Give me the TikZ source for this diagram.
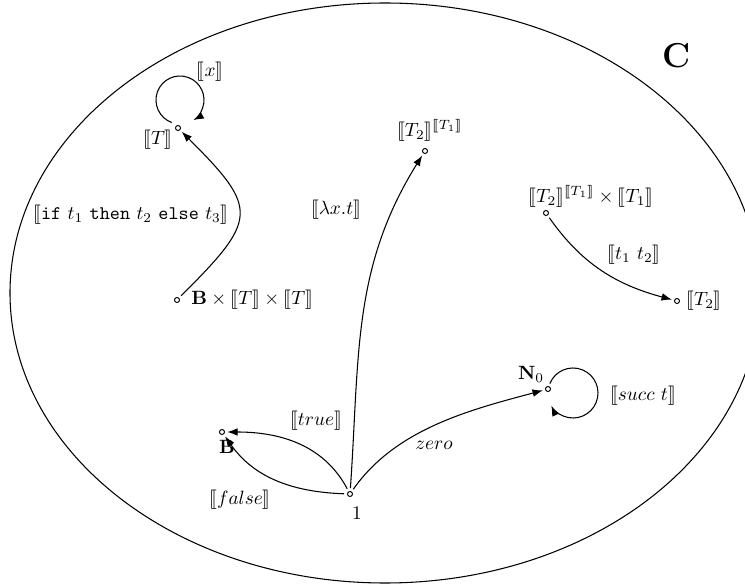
\documentclass[tikz,border=0pt]{standalone}
\usepackage{amsmath,amssymb}
\usepackage{stmaryrd}
\usetikzlibrary{arrows.meta,calc}
\newcommand{\smb}[1]{\llbracket #1\rrbracket}
\begin{document}
\begin{tikzpicture}[x=0.52pt,y=0.52pt,
  dot/.style={circle,draw,line width=0.5pt,inner sep=0pt,minimum size=2.6pt},
  arr/.style={line width=0.55pt,-{Latex[length=5.4pt,width=4pt]},shorten >=1.2pt,shorten <=1.5pt},
  lbl/.style={inner sep=0pt}]
\useasboundingbox (0,0) rectangle (745,-587);
\draw[line width=0.55pt] (385,-293) ellipse[x radius=375,y radius=290];
\node[lbl,font=\fontsize{18}{21}\selectfont\bfseries] (C) at (677,-56) {C};
% objects
\node[dot] (T) at (178,-128) {};
\node[dot] (P) at (425,-151) {};
\node[dot] (Q) at (546,-213) {};
\node[dot] (T2) at (677,-301) {};
\node[dot] (BTT) at (177,-300) {};
\node[dot] (N) at (548,-389) {};
\node[dot] (B) at (222,-432) {};
\node[dot] (one) at (350,-494) {};
% object labels
\node[lbl] (Tl) at (158,-140) {$\smb{T}$};
\node[lbl] (Pl) at (430,-130) {$\smb{T_2}^{\smb{T_1}}$};
\node[lbl] (Ql) at (591,-196) {$\smb{T_2}^{\smb{T_1}}\times\smb{T_1}$};
\node[lbl,anchor=west] (T2l) at (686,-301) {$\smb{T_2}$};
\node[lbl,anchor=west] (BTTl) at (191,-300) {$\mathbf{B}\times\smb{T}\times\smb{T}$};
\node[lbl] (Nl) at (531,-374) {$\mathbf{N}_0$};
\node[lbl] (Bl) at (227,-447) {$\mathbf{B}$};
\node[lbl] (onel) at (357,-513) {$1$};
% arrow labels
\node[lbl] (xl) at (210,-72) {$\smb{x}$};
\node[lbl] (ifl) at (131,-215) {$\smb{\texttt{if}\ t_1\ \texttt{then}\ t_2\ \texttt{else}\ t_3}$};
\node[lbl] (laml) at (336,-210) {$\smb{\lambda x.t}$};
\node[lbl] (appl) at (634,-255) {$\smb{t_1\ t_2}$};
\node[lbl] (zerol) at (434,-445) {$zero$};
\node[lbl] (succl) at (643,-396) {$\smb{succ\ t}$};
\node[lbl] (truel) at (316,-421) {$\smb{true}$};
\node[lbl] (falsel) at (240,-500) {$\smb{false}$};
% loops
\coordinate (lt) at ($(180,-100)+(250:24)$);
\coordinate (ln) at ($(573,-393)+(158:25)$);
\draw[arr,shorten <=0pt] (lt) arc[start angle=250,end angle=-62,radius=24];
\draw[arr,shorten <=0pt] (ln) arc[start angle=158,end angle=-155,radius=25];
% arrows
\draw[arr] (BTT) to[out=45,in=-45,looseness=1.7] (T);
\draw[arr] (one) to[out=86,in=238,looseness=1.0] (P);
\draw[arr] (Q) to[out=-55,in=165,looseness=1.0] (T2);
\draw[arr] (one) to[out=55,in=195,looseness=0.9] (N);
\draw[arr] (one) to[out=118,in=0,looseness=1.0] (B);
\draw[arr] (one) to[out=178,in=-55,looseness=1.0] (B);
\end{tikzpicture}
\end{document}
